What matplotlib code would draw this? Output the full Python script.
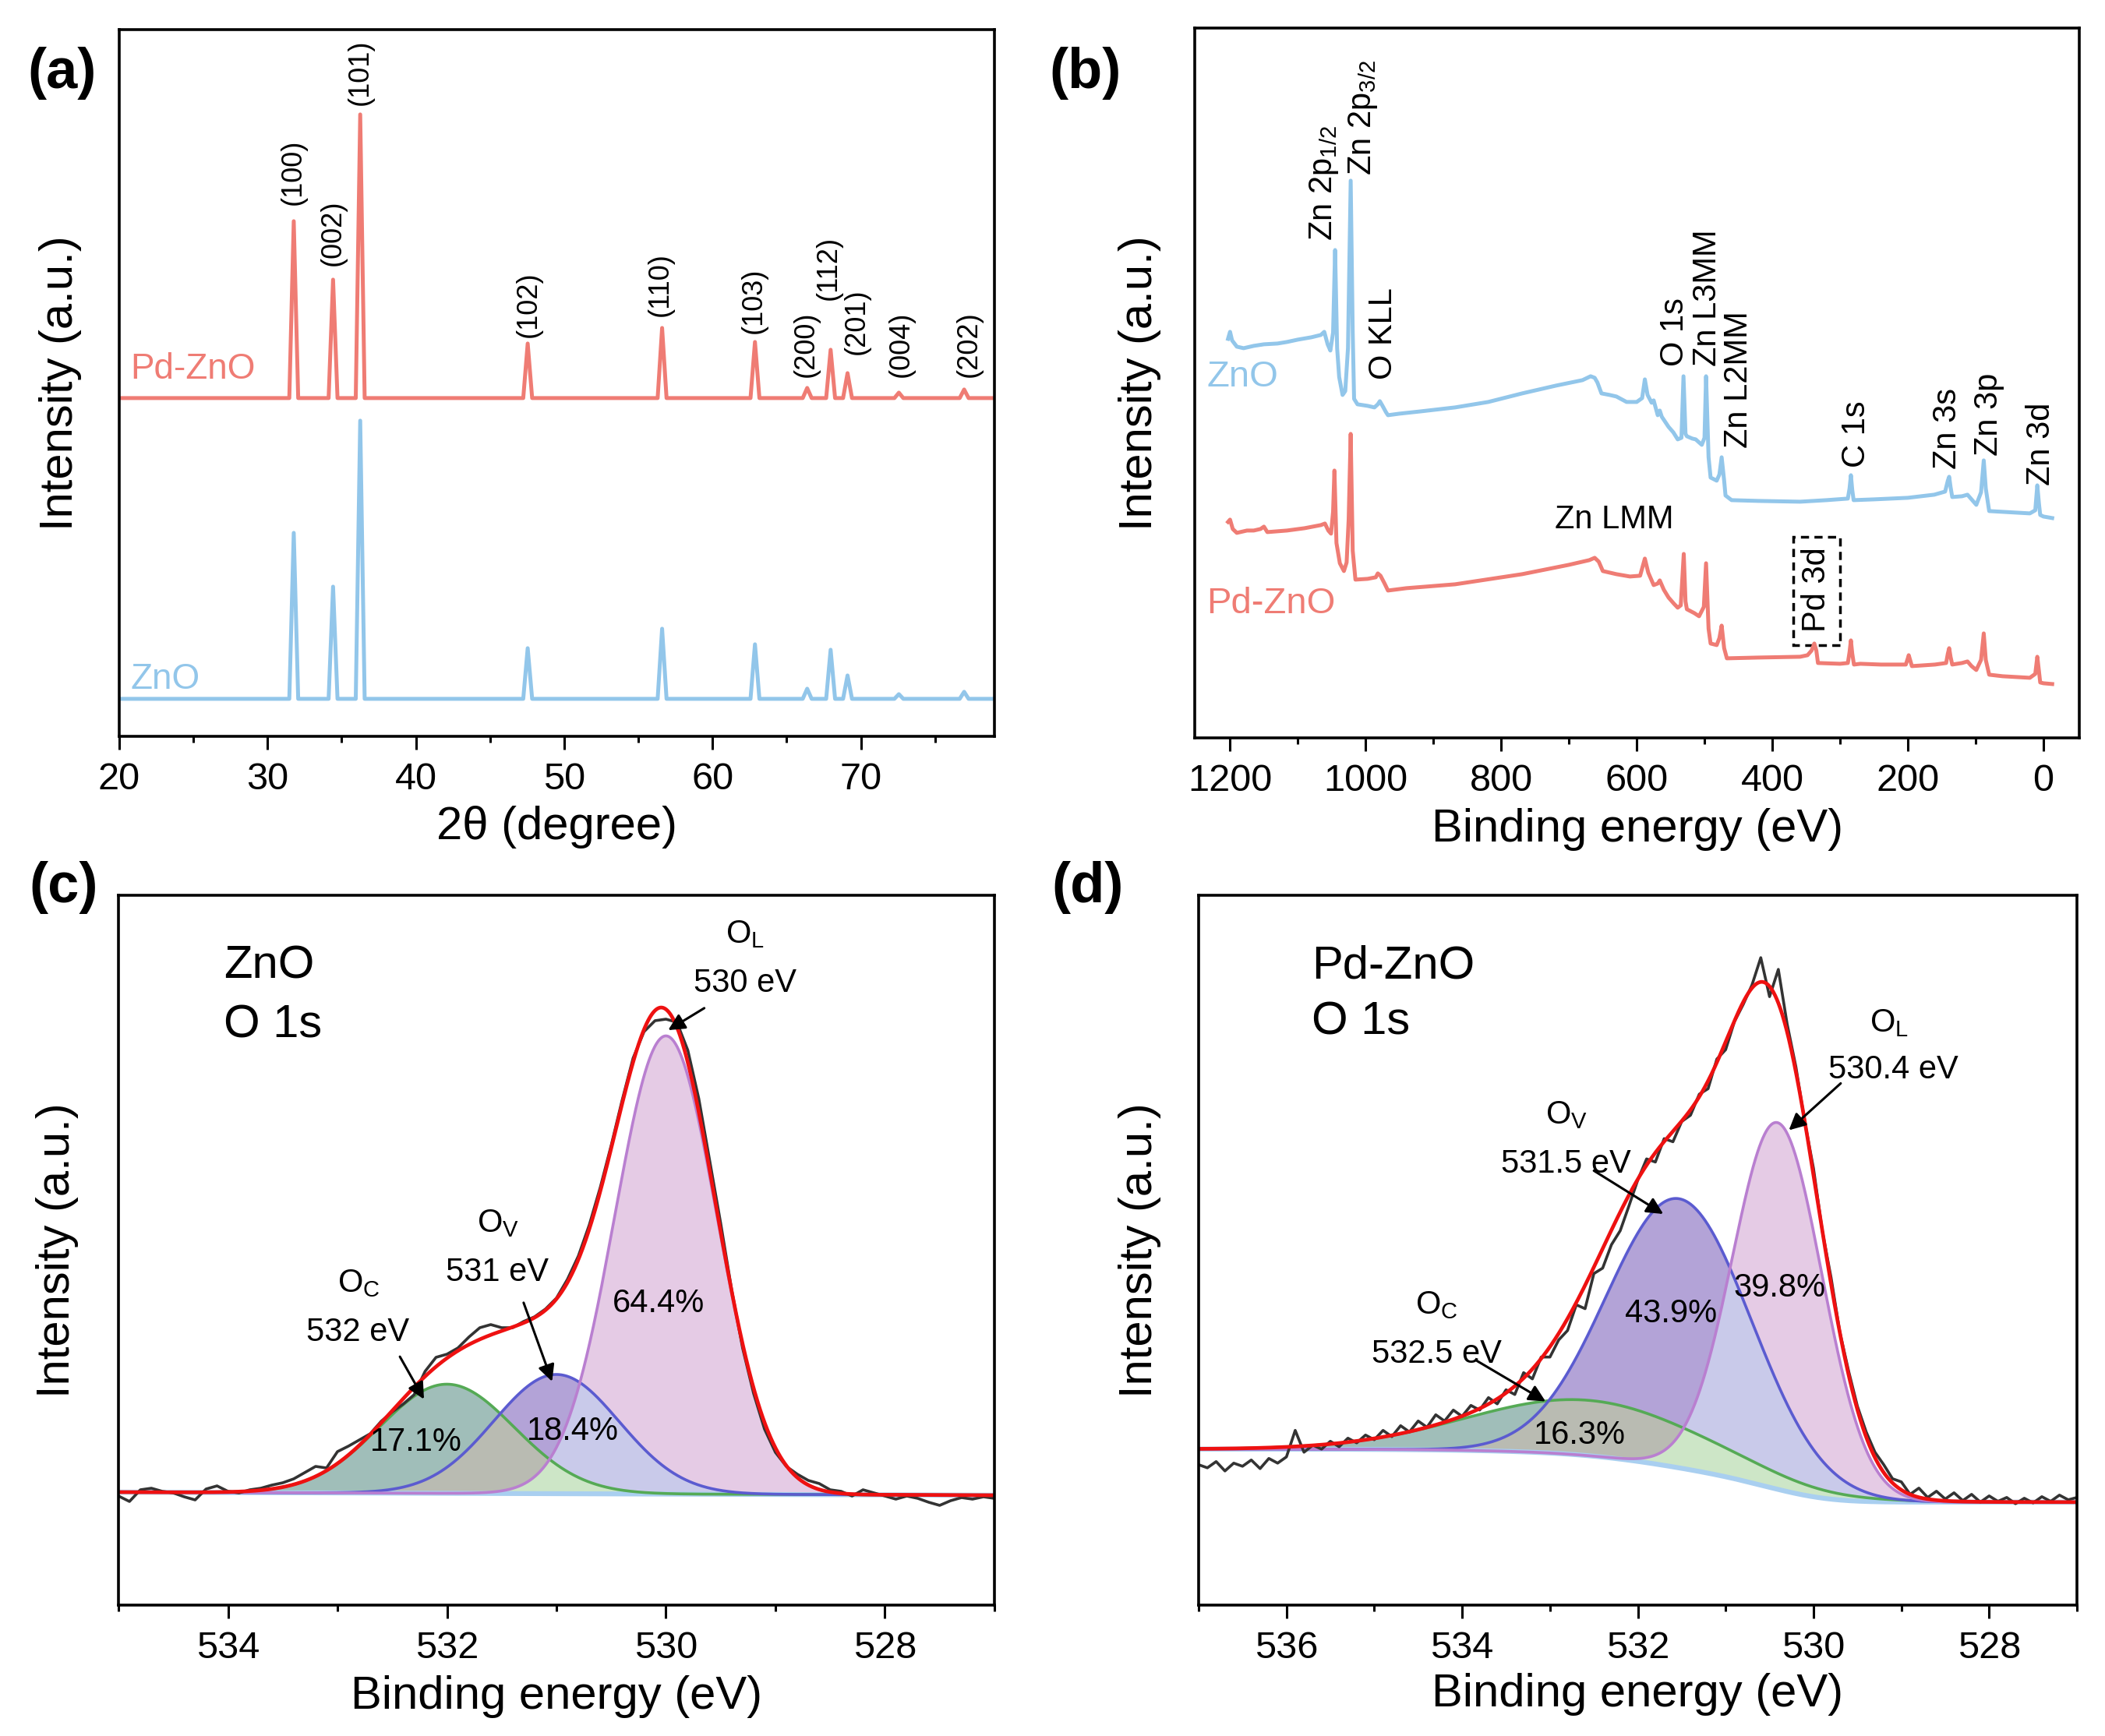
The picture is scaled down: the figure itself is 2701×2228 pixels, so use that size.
import numpy as np
import matplotlib
matplotlib.use('Agg')
import matplotlib.pyplot as plt
from matplotlib.patches import Rectangle

plt.rcParams['font.family'] = ['Liberation Sans', 'DejaVu Sans']
plt.rcParams['mathtext.fontset'] = 'custom'
plt.rcParams['mathtext.rm'] = 'Liberation Sans'
plt.rcParams['mathtext.default'] = 'rm'

RED = '#ef7c74'
BLUE = '#92c6ea'

# ---------------- (a) XRD ----------------
hkl = ['(100)', '(002)', '(101)', '(102)', '(110)', '(103)', '(200)', '(112)', '(201)', '(004)', '(202)']
peak_2theta = [31.77, 34.42, 36.25, 47.54, 56.60, 62.86, 66.38, 67.96, 69.10, 72.56, 76.96]
zno_xrd_base = 48
zno_xrd_top = [261, 192, 405, 113, 138, 118, 61, 111, 78, 54, 57]
pd_xrd_base = 434
pd_xrd_top = [661, 586, 798, 504, 524, 506, 447, 496, 466, 441, 445]
hkl_x = [31.75, 34.41, 36.27, 47.58, 56.5, 62.8, 66.3, 67.8, 69.7, 72.7, 77.3]
hkl_y = [682, 604, 810, 512, 539, 517, 461, 560, 490, 461, 461]

# ---------------- (b) XPS survey ----------------
zno_be = [1203, 1200, 1197, 1190, 1180, 1165, 1150, 1130, 1116, 1100, 1080, 1066, 1061, 1056, 1052, 1048,
          1045, 1042, 1039, 1034, 1030, 1026, 1022, 1019, 1017, 1012, 997, 987, 982, 979, 975, 970, 967,
          950, 918, 868, 819, 769, 719, 680, 668, 662, 658, 652, 640, 630, 615, 600, 592, 588, 584, 578,
          575, 569, 566, 563, 553, 546, 539.5, 534, 531, 528, 526, 518, 513, 504, 500, 497.7, 494, 491,
          482, 478, 474.7, 471, 469, 460, 420, 359, 320, 288.5, 286, 284, 282, 280, 250, 200, 161, 145,
          141, 139, 137, 134.5, 120, 112, 106, 99, 92, 88, 85, 80, 60, 20, 12, 9, 6.5, 4.7, 0, -13]
zno_cps = [512, 521, 510, 502, 500, 503, 505, 506, 508, 511, 514, 517, 521, 505, 497, 520,
           626, 500, 463, 440, 445, 500, 715, 520, 435, 428, 426, 424, 428, 432, 426, 418, 414,
           416, 419, 424, 431, 442, 452, 459, 464, 462, 456, 442, 440, 438, 431, 431, 436, 460, 440, 430,
           433, 414, 420, 412, 399, 392, 383, 385, 464, 390, 387, 384, 383, 376, 385, 464, 360, 334,
           330, 338, 360, 330, 311, 305, 304, 303, 305, 307, 320, 337, 318, 305, 306, 308, 312, 316,
           330, 335, 322, 309, 310, 312, 306, 299, 315, 356, 320, 291, 290, 288, 292, 324, 300, 286, 284, 282]
pd_be = [1203, 1200, 1196, 1190, 1175, 1165, 1155, 1150, 1145, 1116, 1090, 1066, 1060, 1055, 1051, 1048,
         1046, 1043, 1038, 1032, 1028, 1025, 1022, 1019, 1015, 997, 985, 982, 978, 972, 967, 940, 868,
         769, 700, 670, 662, 656, 650, 630, 610, 595, 588, 583, 575, 569, 566, 560, 553, 545, 539.5,
         535, 530.6, 528, 526, 515, 508, 501, 497.7, 494, 491, 482, 478, 474.7, 471, 467, 420, 359, 348,
         342, 338, 335, 332.6, 300, 288.5, 286, 284, 282, 279.5, 270, 240, 203, 200, 198.7, 196, 194,
         160, 143.5, 141, 139, 137, 134.5, 120, 112, 106, 99, 92, 88, 85, 80, 60, 20, 12, 9, 6.5, 4.7, 0, -13]
pd_cps = [277, 280, 268, 263, 266, 266, 268, 271, 264, 266, 269, 273, 275, 266, 262, 290,
          343, 250, 224, 214, 225, 280, 390, 240, 203, 204, 206, 211, 208, 198, 189, 192, 197,
          210, 222, 228, 231, 226, 214, 210, 207, 208, 230, 212, 196, 198, 202, 190, 180, 172, 167,
          170, 236, 175, 165, 160, 156, 168, 224, 140, 121, 119, 128, 144, 115, 102, 103, 104, 106,
          112, 121, 112, 96, 95, 96, 110, 125, 108, 94, 95, 94, 94, 102, 106, 98, 92,
          94, 96, 108, 115, 104, 94, 96, 98, 92, 87, 100, 134, 100, 81, 79, 77, 82, 104, 85, 71, 70, 69]
survey_labels = ['Zn 2p$_{1/2}$', 'Zn 2p$_{3/2}$', 'O KLL', 'O 1s', 'Zn L3MM', 'Zn L2MM',
                 'C 1s', 'Zn 3s', 'Zn 3p', 'Zn 3d']
survey_label_be = [1061, 1004, 974, 544, 495, 449, 276, 141, 80, 3]
survey_label_y = [638, 722, 460, 477, 477, 372, 347, 345, 362, 324]

# ---------------- (c) ZnO O 1s ----------------
c_be = np.linspace(535.0, 527.0, 81)
c_raw = [140, 133, 148, 150, 146, 144, 139, 135, 149, 153,
         146, 144, 148, 150, 154, 157, 162, 170, 178, 176,
         197, 204, 212, 220, 236, 248, 258, 270, 300, 318,
         322, 330, 344, 356, 360, 356, 356, 364, 370, 380,
         394, 418, 448, 488, 536, 590, 648, 702, 736, 750,
         752, 748, 712, 650, 570, 490, 405, 330, 272, 226,
         196, 178, 168, 160, 156, 148, 146, 140, 148, 144,
         140, 136, 140, 137, 132, 128, 134, 138, 136, 139, 137]
c_center = [532.0, 531.0, 530.0]      # O_C, O_V, O_L
c_height = [140, 153, 588]
c_fwhm = [1.45, 1.35, 1.1]
c_bg_ends = [145, 141]                # at 535 eV, at 527 eV

# ---------------- (d) Pd-ZnO O 1s ----------------
d_be = np.linspace(537.0, 527.0, 101)
d_raw = [180, 176, 184, 172, 182, 178, 186, 175, 188, 182,
         190, 224, 196, 205, 200, 210, 203, 214, 208, 218,
         212, 224, 216, 230, 222, 236, 228, 244, 236, 250,
         242, 256, 250, 266, 258, 276, 270, 298, 290, 318,
         318, 340, 352, 385, 380, 425, 432, 462, 480, 512,
         545, 572, 568, 598, 594, 620, 628, 655, 662, 700,
         712, 748, 770, 795, 830, 780, 815, 745, 690, 620,
         560, 480, 420, 350, 300, 255, 222, 196, 180, 162,
         158, 142, 150, 138, 146, 136, 144, 134, 142, 132,
         140, 133, 138, 130, 137, 131, 139, 133, 141, 135, 138]
d_center = [532.55, 531.53, 530.41]
d_height = [71, 345, 470]
d_fwhm = [3.2, 1.93, 1.2]
d_bg_ends = [200, 132]                # high-BE side, low-BE side (Shirley)

comp_line = ['#55aa55', '#5b5bd0', '#b97fd0']
region_col = {(0,): '#a0beb9', (1,): '#b3a3d7', (2,): '#e5cbe5', (0, 1): '#b9bbb2',
              (1, 2): '#c9caea', (0, 2): '#cde6c7', (0, 1, 2): '#cde6c7'}


def gauss(x, c, h, fwhm):
    s = fwhm / 2.3548
    return h * np.exp(-0.5 * ((x - c) / s) ** 2)


def style_axis(ax):
    for sp in ax.spines.values():
        sp.set_linewidth(2.6)
    ax.tick_params(axis='x', which='major', direction='out', length=12, width=2.2,
                   labelsize=35, pad=12, top=False)
    ax.tick_params(axis='x', which='minor', direction='out', length=6, width=2.2, top=False)
    ax.set_yticks([])
    ax.set_ylabel('Intensity (a.u.)', fontsize=43)


fig = plt.figure(figsize=(27.01, 22.28), dpi=100)

# (a)
ax = fig.add_axes([0.0566, 0.5759, 0.4158, 0.4071])
HW = 0.3
for base, tops, col in [(zno_xrd_base, zno_xrd_top, BLUE), (pd_xrd_base, pd_xrd_top, RED)]:
    xs, ys = [20.0], [base]
    for p, t in zip(peak_2theta, tops):
        xs += [p - HW, p, p + HW]
        ys += [base, t, base]
    xs.append(79.0)
    ys.append(base)
    ax.plot(xs, ys, color=col, lw=3.6, solid_joinstyle='round')
for lab, x, y in zip(hkl, hkl_x, hkl_y):
    ax.text(x, y, lab, rotation=90, ha='center', va='bottom', fontsize=26)
ax.text(20.77, 471, 'Pd-ZnO', color=RED, fontsize=33, va='center')
ax.text(20.77, 73, 'ZnO', color=BLUE, fontsize=33, va='center')
ax.set_xlim(20, 79)
ax.set_ylim(0, 907)
ax.set_xticks([20, 30, 40, 50, 60, 70])
ax.set_xticks(np.arange(25, 79, 10), minor=True)
style_axis(ax)
ax.set_xlabel('2θ (degree)', fontsize=43)
ax.xaxis.set_label_coords(0.5, -0.098)
ax.yaxis.set_label_coords(-0.043, 0.5)

# (b)
ax = fig.add_axes([0.5676, 0.5750, 0.4202, 0.4089])
ax.plot(zno_be, zno_cps, color=BLUE, lw=3.6)
ax.plot(pd_be, pd_cps, color=RED, lw=3.6)
for lab, x, y in zip(survey_labels, survey_label_be, survey_label_y):
    ax.text(x, y, lab, rotation=90, ha='center', va='bottom', fontsize=30)
ax.text(633, 280, 'Zn LMM', ha='center', va='center', fontsize=30)
ax.add_patch(Rectangle((300.5, 119), 68, 139, fill=False, ls=(0, (3, 2)), lw=2.5, ec='black'))
ax.text(334.8, 190, 'Pd 3d', rotation=90, ha='center', va='center', fontsize=30)
ax.text(1234.7, 463, 'ZnO', color=BLUE, fontsize=34, va='center')
ax.text(1234.7, 172, 'Pd-ZnO', color=RED, fontsize=34, va='center')
ax.set_xlim(1252, -53)
ax.set_ylim(0, 911)
ax.set_xticks([1200, 1000, 800, 600, 400, 200, 0])
ax.set_xticks([1100, 900, 700, 500, 300, 100], minor=True)
style_axis(ax)
ax.set_xlabel('Binding energy (eV)', fontsize=43)
ax.xaxis.set_label_coords(0.5, -0.099)
ax.yaxis.set_label_coords(-0.038, 0.5)


def o1s_panel(ax, be, raw, centers, heights, fwhms, bg_ends, shirley):
    lo, hi = be.min(), be.max()
    x = np.linspace(lo, hi, 2000)
    comps = [gauss(x, c, h, w) for c, h, w in zip(centers, heights, fwhms)]
    if shirley:
        cum = np.cumsum(sum(comps))
        bg = bg_ends[1] + (bg_ends[0] - bg_ends[1]) * cum / cum[-1]
    else:
        bg = bg_ends[1] + (bg_ends[0] - bg_ends[1]) * (x - lo) / (hi - lo)
    for subset, col in region_col.items():
        inside = [comps[k] for k in subset]
        outside = [comps[k] for k in range(3) if k not in subset]
        upper = np.min(inside, axis=0)
        lower = np.max(outside, axis=0) if outside else np.zeros_like(x)
        ax.fill_between(x, bg + lower, bg + upper, where=upper > lower,
                        interpolate=True, color=col, lw=0)
    ax.plot(x, bg, color='#a9cff0', lw=4.5)
    for comp, col in zip(comps, comp_line):
        ax.plot(x, bg + comp, color=col, lw=2.6)
    ax.plot(be, raw, color='#333333', lw=2.6)
    ax.plot(x, bg + sum(comps), color='#ee1111', lw=3.4)
    ax.set_xlim(hi, lo)


def arrow(ax, head, tail):
    ax.annotate('', xy=head, xytext=tail, xycoords=('data', 'axes fraction'),
                textcoords=('data', 'axes fraction'),
                arrowprops=dict(arrowstyle='-|>', color='black', lw=2.2,
                                mutation_scale=32, shrinkA=0, shrinkB=0))


# (c)
ax = fig.add_axes([0.0563, 0.0754, 0.4161, 0.4089])
o1s_panel(ax, c_be, c_raw, c_center, c_height, c_fwhm, c_bg_ends, False)
ax.set_ylim(0, 911)
ax.set_xticks([534, 532, 530, 528])
ax.set_xticks([535, 533, 531, 529, 527], minor=True)
style_axis(ax)
ax.set_xlabel('Binding energy (eV)', fontsize=43)
ax.xaxis.set_label_coords(0.5, -0.099)
ax.yaxis.set_label_coords(-0.045, 0.5)
T = ax.transAxes
ax.text(0.12, 0.8826, 'ZnO', transform=T, fontsize=43)
ax.text(0.12, 0.80, 'O 1s', transform=T, fontsize=43)
for s, fx, fy in [('O$_\\mathrm{L}$', 0.715, 0.933), ('530 eV', 0.715, 0.864),
                  ('O$_\\mathrm{V}$', 0.433, 0.526), ('531 eV', 0.432, 0.457),
                  ('O$_\\mathrm{C}$', 0.274, 0.441), ('532 eV', 0.2736, 0.372),
                  ('64.4%', 0.6165, 0.413), ('18.4%', 0.5187, 0.233), ('17.1%', 0.34, 0.217)]:
    ax.text(fx, fy, s, transform=T, fontsize=30, ha='center', va='baseline')
arrow(ax, (529.98, 0.81), (529.65, 0.841))
arrow(ax, (531.04, 0.315), (531.3, 0.426))
arrow(ax, (532.21, 0.29), (532.43, 0.35))

# (d)
ax = fig.add_axes([0.5694, 0.0754, 0.4173, 0.4089])
o1s_panel(ax, d_be, d_raw, d_center, d_height, d_fwhm, d_bg_ends, True)
ax.set_ylim(0, 910)
ax.set_xticks([536, 534, 532, 530, 528])
ax.set_xticks([537, 535, 533, 531, 529, 527], minor=True)
style_axis(ax)
ax.set_xlabel('Binding energy (eV)', fontsize=43)
ax.xaxis.set_label_coords(0.5, -0.095)
ax.yaxis.set_label_coords(-0.0426, 0.5)
T = ax.transAxes
ax.text(0.129, 0.8835, 'Pd-ZnO', transform=T, fontsize=43)
ax.text(0.129, 0.8044, 'O 1s', transform=T, fontsize=43)
for s, fx, fy in [('O$_\\mathrm{L}$', 0.786, 0.808), ('530.4 eV', 0.791, 0.742),
                  ('O$_\\mathrm{V}$', 0.419, 0.678), ('531.5 eV', 0.418, 0.609),
                  ('O$_\\mathrm{C}$', 0.271, 0.41), ('532.5 eV', 0.271, 0.341),
                  ('43.9%', 0.538, 0.398), ('39.8%', 0.661, 0.435), ('16.3%', 0.434, 0.227)]:
    ax.text(fx, fy, s, transform=T, fontsize=30, ha='center', va='baseline')
arrow(ax, (530.28, 0.669), (529.69, 0.735))
arrow(ax, (531.71, 0.551), (532.5, 0.612))
arrow(ax, (533.05, 0.287), (533.83, 0.344))

# panel letters
for s, fx, fy in [('(a)', 0.0296, 0.958), ('(b)', 0.5157, 0.958),
                  ('(c)', 0.0304, 0.4888), ('(d)', 0.5165, 0.4888)]:
    fig.text(fx, fy, s, fontsize=52, fontweight='bold', ha='center', va='center')

fig.savefig('out.png', dpi=100)
